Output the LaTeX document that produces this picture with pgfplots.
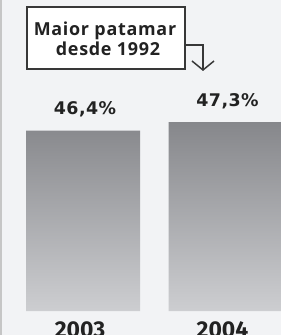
\documentclass[border=0pt]{standalone}
\usepackage{pgfplots}
\pgfplotsset{compat=1.18}
\usepackage{fontspec}
\setmainfont{Open Sans}
\newfontfamily\fira{Fira Sans}
\newfontfamily\boxfont{Open Sans}[LetterSpace=4]
\newfontfamily\valfont{DejaVu Sans}[LetterSpace=2.5]
\definecolor{bg}{HTML}{F2F3F5}
\definecolor{bartop}{HTML}{86878B}
\definecolor{barbot}{HTML}{CDCED1}
\definecolor{txt}{HTML}{222222}
\begin{document}
\begin{tikzpicture}[x=1bp,y=1bp]
\fill[bg] (0,0) rectangle (281,335);
\path[use as bounding box] (0,0) rectangle (281,335);
\draw[gray!45, line width=1.5bp] (1,0) -- (1,335);
\begin{axis}[
  at={(0,25)}, anchor=south west,
  scale only axis, width=281bp, height=310bp,
  axis line style={draw=none},
  y coord trafo/.code={\pgfmathparse{#1-27.4}},
  y coord inv trafo/.code={\pgfmathparse{#1+27.4}},
  xmin=-0.5825, xmax=1.3895, ymin=27.4, ymax=60.03,
  clip=false,
  ybar, bar width=0.8,
  xtick={0,1}, xticklabels={2003,2004},
  xtick style={draw=none},
  ytick=\empty,
  xticklabel style={font=\fira\fontsize{23}{25}\selectfont\bfseries, text=txt, anchor=north, inner sep=0pt, yshift=-6bp, xshift=-3bp},
  point meta=explicit symbolic,
  nodes near coords,
  every node near coord/.append style={font=\valfont\fontsize{17.5}{20}\selectfont\bfseries, text=txt, anchor=base, yshift=16bp, xshift=2bp},
]
\addplot[draw=none, top color=bartop, bottom color=barbot] table[meta=label] {
x y label
0 46.4 {46,4\%}
1 47.3 {47,3\%}
};
\end{axis}
\draw[txt!90, line width=1.5bp, fill=white] (27,266) rectangle (185,328);
\node[font=\boxfont\fontsize{18}{20}\selectfont\bfseries, text=txt, anchor=base] at (105,300) {Maior patamar};
\node[font=\boxfont\fontsize{18}{20}\selectfont\bfseries, text=txt, anchor=base] at (108,280) {desde 1992};
\draw[txt!90, line width=1.5bp] (185,290) -- (203,290) -- (203,265.5);
\draw[txt!90, line width=1.5bp] (192,274) -- (203,265) -- (214,274);
\end{tikzpicture}
\end{document}
